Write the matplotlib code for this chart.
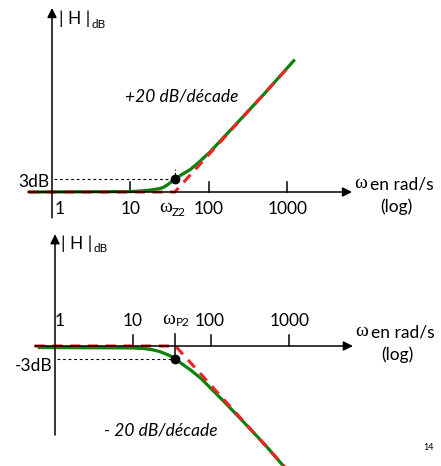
import matplotlib.pyplot as plt

# values (rad/s and dB)
w_zero = 37          # omega_Z2
w_pole = 35          # omega_P2
level = 3            # 3 dB point

# top : zero -> +20 dB/decade
top_w = [0.5, 10, 14, 18, 22, 26, 30, 37, 45, 58, 75, 104, 150, 250, 500, 1260]
top_db = [0, 0.1, 0.25, 0.45, 0.7, 1.0, 1.7, 3.0, 4.0, 5.2, 6.9, 9.3, 12.4, 16.7, 22.6, 30.8]
top_asym_w = [0.5, w_zero, 1100]
top_asym_db = [0, 0, 29.5]

# bottom : pole -> -20 dB/decade
bot_w = [0.6, 10, 14, 18, 22, 26, 30, 35, 42, 55, 75, 104, 150, 250, 500, 1000]
bot_db = [-0.35, -0.45, -0.6, -0.9, -1.3, -1.8, -2.3, -3.0, -4.1, -5.6, -7.6, -10.2, -13.1, -17.3, -23.1, -29.4]
bot_asym_w = [0.55, w_pole, 1000]
bot_asym_db = [0, 0, -29.2]

tick_w = [10, 100, 1000]
tick_lab = ["10", "100", "1000"]

GREEN = "#0c820c"
RED = "#f02222"
W, H = 441, 466
font = "Lato"
serif = "Liberation Serif"

fig = plt.figure(figsize=(W / 100, H / 100), dpi=100)


def px(x, y):
    return x / W, 1 - y / H


def txt(x, y, s, size=12.5, ha="center", **kw):
    kw.setdefault("family", font)
    fig.text(*px(x, y), s, fontsize=size, ha=ha, va="center", **kw)


def arrow(ax, tail, head):
    ax.annotate("", xy=head, xytext=tail,
                arrowprops=dict(arrowstyle="-|>", lw=1.1, color="k",
                                shrinkA=0, shrinkB=0, mutation_scale=14))


def panel(rect, x0, dec, y0, top, bottom, dbpx=4.3):
    ax = fig.add_axes(rect)
    ax.set_xscale("log")
    ax.set_xlim(10 ** (-x0 / dec), 10 ** ((W - x0) / dec))
    ax.set_ylim(-(bottom - y0) / dbpx, (y0 - top) / dbpx)
    ax.axis("off")
    return ax


# ---------- top panel ----------
ax1 = panel([0, 0.5, 1, 0.5], 52, 78.3, 192, 0, 233)
arrow(ax1, (0.49, 0), (6800, 0))
arrow(ax1, (1, -6.0), (1, 42.8))
for w in tick_w:
    ax1.plot([w, w], [0, 2.4], color="k", lw=1.1)
ax1.plot([1.05, w_zero], [level, level], color="k", lw=0.8, dashes=(2.5, 2.5))
ax1.plot([w_zero, w_zero], [level, 5.3], color="k", lw=0.8, dashes=(2, 2))
ax1.plot(top_w, top_db, color=GREEN, lw=2.3, solid_capstyle="butt")
ax1.plot(top_asym_w, top_asym_db, color=RED, lw=2.2, dashes=(3.3, 2.5))
ax1.plot([w_zero], [level], "o", color="k", ms=6, zorder=5)

# ---------- bottom panel ----------
ax2 = panel([0, 0, 1, 0.5], 55, 78, 346 - 233, 0, 233)
arrow(ax2, (0.55, 0), (6600, 0))
arrow(ax2, (1, -20.7), (1, 26.0))
for w in tick_w:
    ax2.plot([w, w], [0, 2.6], color="k", lw=1.1)
ax2.plot([w_pole, w_pole], [-level, 2.8], color="k", lw=1.1)
ax2.plot([1.05, w_pole], [-level, -level], color="k", lw=0.8, dashes=(2.5, 2.5))
ax2.plot(bot_w, bot_db, color=GREEN, lw=2.3, solid_capstyle="butt")
ax2.plot(bot_asym_w, bot_asym_db, color=RED, lw=2.2, dashes=(3.3, 2.5))
ax2.plot([w_pole], [-level], "o", color="k", ms=6, zorder=5)

# ---------- texts top ----------
txt(59, 19, "| H |", ha="left")
txt(91, 24, "dB", size=8.5, ha="left")
txt(49, 182, "3dB", ha="right")
txt(55, 209, "1", ha="left")
for lab, x in zip(tick_lab, [131, 209, 288]):
    txt(x, 209, lab)
txt(159, 208, "ω", size=14, ha="left", family=serif)
txt(172, 212, "Z2", size=8.5, ha="left")
txt(354, 183, "ω", size=14, ha="left", family=serif)
txt(370, 184, "en rad/s", ha="left")
txt(396, 207, "(log)")
txt(182, 97, "+20 dB/décade", style="italic")

# ---------- texts bottom ----------
txt(61, 244, "| H |", ha="left")
txt(93, 249, "dB", size=8.5, ha="left")
txt(53, 366, "-3dB", ha="right")
txt(55, 321, "1", ha="left")
for lab, x in zip(tick_lab, [133, 210, 290]):
    txt(x, 321, lab)
txt(162, 320, "ω", size=14, ha="left", family=serif)
txt(176, 323, "P2", size=8.5, ha="left")
txt(355, 331, "ω", size=14, ha="left", family=serif)
txt(371, 332, "en rad/s", ha="left")
txt(397, 355, "(log)")
txt(161, 431, "- 20 dB/décade", style="italic")
txt(429, 447, "14", size=6.5)

fig.savefig("out.png", dpi=100)
